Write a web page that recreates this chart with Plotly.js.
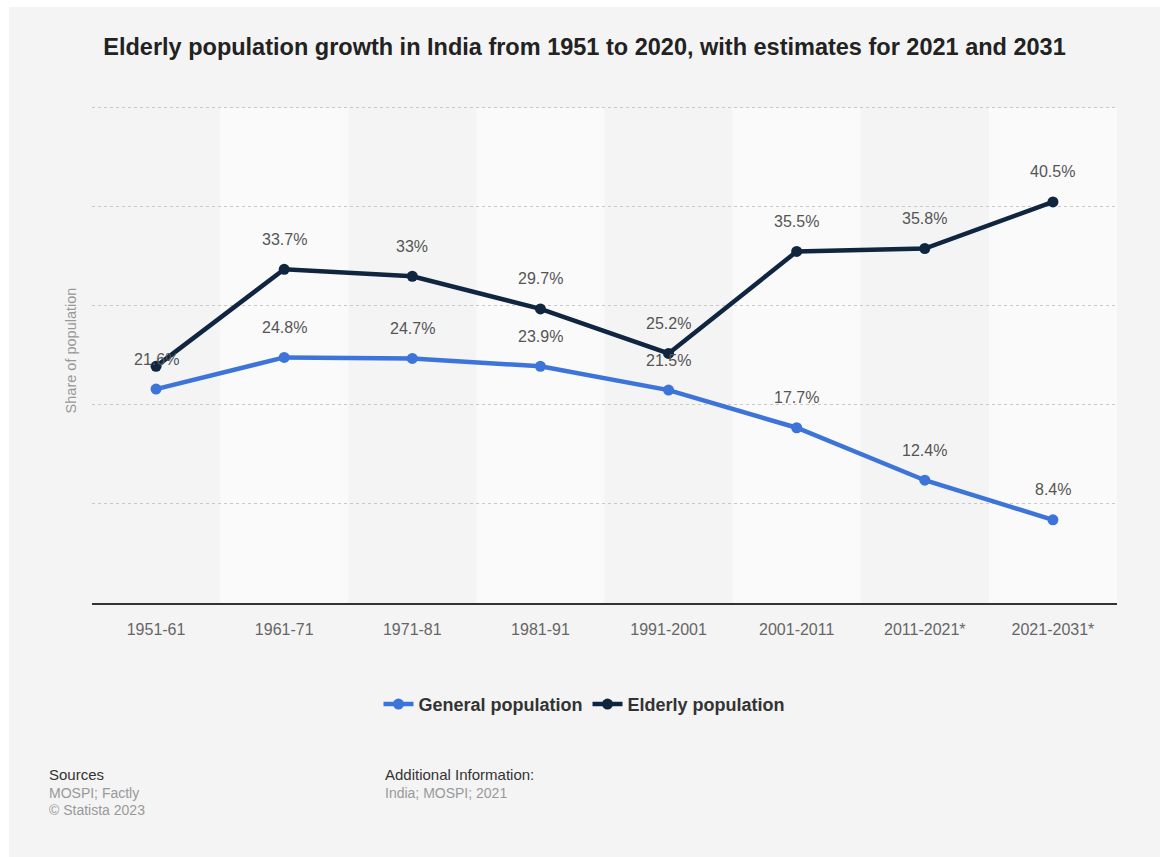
<!DOCTYPE html>
<html>
<head>
<meta charset="utf-8">
<script src="https://cdn.plot.ly/plotly-3.0.1.min.js"></script>
<style>
  html, body { margin: 0; padding: 0; background: #ffffff; }
  #chart { position: absolute; left: 9px; top: 7px; width: 1151px; height: 850px; }
</style>
</head>
<body>
<div id="chart"></div>
<script>
const categories = ["1951-61", "1961-71", "1971-81", "1981-91", "1991-2001", "2001-2011", "2011-2021*", "2021-2031*"];
const generalPopulation = [21.6, 24.8, 24.7, 23.9, 21.5, 17.7, 12.4, 8.4];
const elderlyPopulation = [23.9, 33.7, 33.0, 29.7, 25.2, 35.5, 35.8, 40.5];
// the reference does not draw a label for the first elderly point
const elderlyLabelShown = [false, true, true, true, true, true, true, true];

const BLUE = "#3c74d9";
const NAVY = "#10253f";
const fontFam = "'Liberation Sans', Arial, Helvetica, sans-serif";

function fmt(v) { return (Math.round(v * 10) / 10).toString() + "%"; }

const traces = [
  {
    type: "scatter", mode: "lines+markers", name: "General population",
    x: categories, y: generalPopulation,
    line: { color: BLUE, width: 4.5 },
    marker: { color: BLUE, size: 11 },
    hoverinfo: "skip"
  },
  {
    type: "scatter", mode: "lines+markers", name: "Elderly population",
    x: categories, y: elderlyPopulation,
    line: { color: NAVY, width: 4.5 },
    marker: { color: NAVY, size: 11 },
    hoverinfo: "skip"
  }
];

const shapes = [];
categories.forEach((c, i) => {
  if (i % 2 === 1) {
    shapes.push({
      type: "rect", xref: "x", yref: "y", layer: "below",
      x0: i - 0.5, x1: i + 0.5, y0: 0, y1: 50,
      fillcolor: "#fafafa", line: { width: 0 }
    });
  }
});

const annotations = [];
const labelFont = { family: fontFam, size: 16, color: "#555555" };
categories.forEach((c, i) => {
  annotations.push({
    xref: "x", yref: "y", x: c, y: generalPopulation[i],
    text: fmt(generalPopulation[i]), showarrow: false, yshift: 30,
    font: labelFont
  });
  if (elderlyLabelShown[i]) {
    annotations.push({
      xref: "x", yref: "y", x: c, y: elderlyPopulation[i],
      text: fmt(elderlyPopulation[i]), showarrow: false, yshift: 30,
      font: labelFont
    });
  }
});

// plot area: 50 units = 495.5 px; range extended to 51 so the top grid line is drawn
const PLOT_H = 495.5 * 51 / 50;
const BOTTOM_PAGE = 603.5;
function paperY(pageY) { return (BOTTOM_PAGE - pageY) / PLOT_H; }

const headFont = { family: fontFam, size: 15, color: "#333333" };
const greyFont = { family: fontFam, size: 14, color: "#999999" };
annotations.push(
  { xref: "paper", yref: "paper", x: -0.0439, y: paperY(775), xanchor: "left", yanchor: "middle", showarrow: false,
    text: "Sources", font: headFont },
  { xref: "paper", yref: "paper", x: -0.0439, y: paperY(794), xanchor: "left", yanchor: "middle", showarrow: false,
    text: "MOSPI; Factly", font: greyFont },
  { xref: "paper", yref: "paper", x: -0.0439, y: paperY(811), xanchor: "left", yanchor: "middle", showarrow: false,
    text: "© Statista 2023", font: greyFont },
  { xref: "paper", yref: "paper", x: 0.2839, y: paperY(775), xanchor: "left", yanchor: "middle", showarrow: false,
    text: "Additional Information:", font: headFont },
  { xref: "paper", yref: "paper", x: 0.2839, y: paperY(794), xanchor: "left", yanchor: "middle", showarrow: false,
    text: "India; MOSPI; 2021", font: greyFont }
);

const layout = {
  width: 1151, height: 850,
  paper_bgcolor: "#f4f4f4",
  plot_bgcolor: "rgba(0,0,0,0)",
  margin: { l: 83, r: 43, t: 850 - 253.5 - PLOT_H, b: 253.5, autoexpand: false },
  font: { family: fontFam, color: "#666666" },
  title: {
    text: "<b>Elderly population growth in India from 1951 to 2020, with estimates for 2021 and 2031</b>",
    xref: "container", x: 0.5, xanchor: "center",
    yref: "container", y: 1 - 40 / 850, yanchor: "middle",
    font: { family: fontFam, size: 23.5, color: "#222222" }
  },
  xaxis: {
    type: "category", range: [-0.5, 7.5],
    showgrid: false, zeroline: false,
    showline: true, linecolor: "#333333", linewidth: 2,
    ticks: "", ticklabelstandoff: 11,
    tickfont: { family: fontFam, size: 16, color: "#666666" },
    fixedrange: true
  },
  yaxis: {
    range: [0, 51], dtick: 10, tick0: 0,
    showticklabels: false, ticks: "",
    showgrid: true, gridcolor: "#c8c8c8", griddash: "dot", gridwidth: 1,
    zeroline: false, showline: false,
    title: { text: "Share of population", standoff: 10, font: { family: fontFam, size: 14.5, color: "#999999" } },
    fixedrange: true
  },
  showlegend: true,
  legend: {
    orientation: "h", xref: "container", x: 0.5, xanchor: "center", y: paperY(705), yanchor: "middle",
    font: { family: fontFam, size: 18, color: "#333333", weight: "bold" },
    bgcolor: "rgba(0,0,0,0)", itemwidth: 30
  },
  shapes: shapes,
  annotations: annotations
};

Plotly.newPlot("chart", traces, layout, { displayModeBar: false, staticPlot: true });
</script>
</body>
</html>
